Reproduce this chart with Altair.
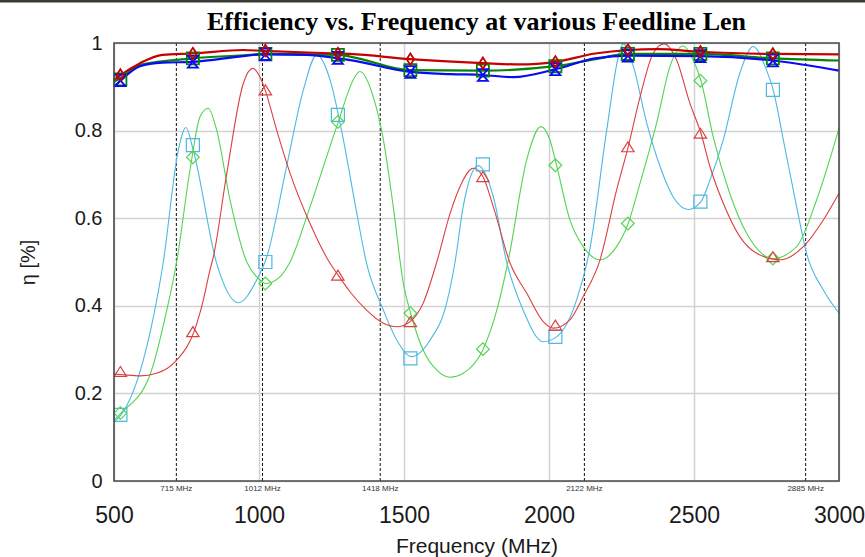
import altair as alt
import pandas as pd

# ---------------- data ----------------
# thick upper curves
red_hi_f = [500, 524, 590, 667, 774, 945, 1014, 1273, 1314, 1521, 1773, 1900, 2021, 2159, 2274, 2373, 2522, 2772, 3000]
red_hi_v = [0.915, 0.927, 0.954, 0.973, 0.976, 0.984, 0.982, 0.976, 0.975, 0.963, 0.954, 0.951, 0.957, 0.976, 0.984, 0.986, 0.980, 0.975, 0.974]

green_hi_f = [500, 524, 590, 774, 945, 1014, 1273, 1314, 1521, 1773, 2021, 2159, 2274, 2522, 2772, 3000]
green_hi_v = [0.912, 0.920, 0.950, 0.965, 0.972, 0.975, 0.973, 0.969, 0.938, 0.937, 0.947, 0.963, 0.975, 0.975, 0.965, 0.960]

blue_hi_f = [500, 524, 590, 667, 774, 945, 1014, 1165, 1273, 1314, 1521, 1660, 1773, 1877, 2021, 2159, 2274, 2522, 2772, 3000]
blue_hi_v = [0.900, 0.915, 0.947, 0.955, 0.957, 0.970, 0.974, 0.973, 0.965, 0.961, 0.934, 0.929, 0.927, 0.922, 0.940, 0.965, 0.971, 0.970, 0.960, 0.937]

# thin lower curves
cyan_f = [500, 524, 601, 670, 722, 748, 773, 854, 865, 929, 992, 1027, 1095, 1153, 1199, 1245, 1291, 1331, 1371,
          1429, 1475, 1526, 1590, 1647, 1676, 1704, 1756, 1808, 1854, 1911, 1980, 2026, 2095, 2141, 2199, 2245,
          2256, 2291, 2337, 2383, 2428, 2480, 2524, 2555, 2601, 2658, 2704, 2750, 2773, 2808, 2854, 2888, 2946, 3000]
cyan_v = [0.135, 0.151, 0.276, 0.500, 0.756, 0.807, 0.756, 0.497, 0.474, 0.407, 0.459, 0.512, 0.718, 0.893, 0.973,
          0.916, 0.779, 0.634, 0.497, 0.390, 0.322, 0.284, 0.322, 0.406, 0.500, 0.626, 0.720, 0.649, 0.500, 0.390,
          0.318, 0.329, 0.413, 0.530, 0.801, 0.984, 0.998, 0.946, 0.817, 0.718, 0.649, 0.620, 0.638, 0.687, 0.779,
          0.931, 0.992, 0.938, 0.893, 0.779, 0.626, 0.520, 0.436, 0.383]

green_lo_f = [500, 524, 624, 682, 716, 762, 797, 825, 854, 900, 958, 992, 1024, 1072, 1107, 1176, 1268, 1331, 1348,
              1394, 1429, 1463, 1498, 1523, 1566, 1613, 1659, 1704, 1773, 1820, 1860, 1923, 1972, 2003, 2026, 2072,
              2118, 2176, 2233, 2273, 2314, 2371, 2417, 2463, 2497, 2524, 2566, 2623, 2681, 2773, 2854, 2923, 3000]
green_lo_v = [0.139, 0.155, 0.242, 0.390, 0.500, 0.710, 0.832, 0.851, 0.801, 0.642, 0.500, 0.466, 0.451, 0.466, 0.500,
              0.626, 0.809, 0.923, 0.935, 0.877, 0.779, 0.626, 0.450, 0.383, 0.299, 0.253, 0.237, 0.246, 0.301, 0.390,
              0.505, 0.733, 0.809, 0.779, 0.721, 0.596, 0.535, 0.505, 0.535, 0.588, 0.680, 0.817, 0.946, 0.993, 0.961,
              0.914, 0.786, 0.657, 0.566, 0.508, 0.535, 0.642, 0.805]

red_lo_f = [500, 524, 590, 647, 716, 776, 808, 831, 842, 889, 946, 978, 1003, 1021, 1061, 1107, 1176, 1245, 1273,
            1314, 1371, 1429, 1475, 1521, 1566, 1613, 1659, 1693, 1739, 1772, 1808, 1866, 1923, 1980, 2015, 2072,
            2118, 2176, 2233, 2273, 2314, 2359, 2397, 2440, 2486, 2524, 2555, 2601, 2658, 2716, 2797, 2877, 2946, 3000]
red_lo_v = [0.244, 0.243, 0.240, 0.246, 0.276, 0.341, 0.413, 0.482, 0.510, 0.703, 0.908, 0.942, 0.923, 0.893, 0.801,
            0.703, 0.588, 0.497, 0.470, 0.432, 0.390, 0.360, 0.352, 0.364, 0.406, 0.500, 0.611, 0.672, 0.714, 0.695,
            0.626, 0.497, 0.429, 0.364, 0.349, 0.368, 0.421, 0.505, 0.664, 0.763, 0.877, 0.976, 0.998, 0.961, 0.862,
            0.794, 0.718, 0.634, 0.558, 0.520, 0.505, 0.535, 0.596, 0.657]

# marker positions and values
marker_f = [522, 772, 1022, 1272, 1522, 1772, 2022, 2272, 2522, 2772]
red_hi_m = [0.927, 0.976, 0.983, 0.976, 0.963, 0.954, 0.957, 0.984, 0.980, 0.975]
green_hi_m = [0.917, 0.965, 0.975, 0.973, 0.938, 0.937, 0.947, 0.975, 0.975, 0.965]
blue_hi_m = [0.915, 0.957, 0.974, 0.966, 0.934, 0.927, 0.940, 0.971, 0.970, 0.960]
red_lo_m = [0.250, 0.341, 0.893, 0.470, 0.364, 0.695, 0.356, 0.763, 0.794, 0.512]
green_lo_m = [0.155, 0.739, 0.451, 0.820, 0.383, 0.301, 0.721, 0.588, 0.914, 0.508]
cyan_m = [0.151, 0.767, 0.500, 0.836, 0.280, 0.723, 0.329, 0.975, 0.638, 0.893]

# annotated frequencies
band_f = [715, 1012, 1418, 2122, 2885]
band_lbl = ["715 MHz", "1012 MHz", "1418 MHz", "2122 MHz", "2885 MHz"]

title_text = "Efficiency vs. Frequency at various Feedline Len"
x_ticks = [500, 1000, 1500, 2000, 2500, 3000]
y_ticks = [0, 0.2, 0.4, 0.6, 0.8, 1.0]

series = ["cyan", "green_lo", "red_lo", "green_hi", "blue_hi", "red_hi"]
colors = ["#4DB8E2", "#52D452", "#DB4040", "#078407", "#0A0AF5", "#C40000"]
shapes = ["square",
          "diamond",
          "M0,-0.8L1,0.8L-1,0.8Z",
          "square",
          "M-0.85,-1L0.85,-1L-0.85,1L0.85,1Z",
          "M0,-1L0.65,0L0,1L-0.65,0Z"]
sizes = [170, 130, 190, 140, 150, 170]

# ---------------- tables ----------------
def tbl(fs, vs, name):
    return pd.DataFrame({"freq": fs, "eff": vs, "series": name})

lo_lines = pd.concat([tbl(cyan_f, cyan_v, "cyan"), tbl(green_lo_f, green_lo_v, "green_lo"),
                      tbl(red_lo_f, red_lo_v, "red_lo")])
hi_lines = pd.concat([tbl(green_hi_f, green_hi_v, "green_hi"), tbl(blue_hi_f, blue_hi_v, "blue_hi"),
                      tbl(red_hi_f, red_hi_v, "red_hi")])
lo_marks = pd.concat([tbl(marker_f, cyan_m, "cyan"), tbl(marker_f, green_lo_m, "green_lo"),
                      tbl(marker_f, red_lo_m, "red_lo")])
hi_marks = pd.concat([tbl(marker_f, green_hi_m, "green_hi"), tbl(marker_f, blue_hi_m, "blue_hi"),
                      tbl(marker_f, red_hi_m, "red_hi")])
bands = pd.DataFrame({"freq": band_f, "label": band_lbl})
one = pd.DataFrame({"t": [title_text]})

W, H = 725, 438

xenc = alt.X("freq:Q", title="Frequency (MHz)",
             scale=alt.Scale(domain=[500, 3000], nice=False, zero=False),
             axis=alt.Axis(values=x_ticks, format="d", grid=True, ticks=False, tickSize=0, domain=False,
                           labelFontSize=23, labelPadding=23, labelFont="Liberation Sans",
                           labelColor="#1a1a1a", titleFont="Liberation Sans", titleFontSize=21,
                           titleFontWeight="normal", titleColor="#1a1a1a", titlePadding=8,
                           gridColor="#d2d2d2", gridWidth=1.5, labelFlush=False))
yenc = alt.Y("eff:Q", title="η [%]",
             scale=alt.Scale(domain=[0, 1], nice=False),
             axis=alt.Axis(values=y_ticks, format="~g", grid=True, ticks=False, tickSize=0, domain=False,
                           labelFontSize=20, labelPadding=12, labelFont="Liberation Sans",
                           labelColor="#1a1a1a", titleFont="Liberation Sans", titleFontSize=20,
                           titleFontWeight="normal", titleColor="#1a1a1a", titlePadding=36,
                           gridColor="#d2d2d2", gridWidth=1.5, labelFlush=False))
cenc = alt.Color("series:N", scale=alt.Scale(domain=series, range=colors), legend=None)
shenc = alt.Shape("series:N", scale=alt.Scale(domain=series, range=shapes), legend=None)
szenc = alt.Size("series:N", scale=alt.Scale(domain=series, range=sizes), legend=None)

lo_line_layer = alt.Chart(lo_lines).mark_line(interpolate="monotone", strokeWidth=1.1).encode(
    x=xenc, y=yenc, color=cenc, detail="series:N")
hi_line_layer = alt.Chart(hi_lines).mark_line(interpolate="monotone", strokeWidth=2.2).encode(
    x=xenc, y=yenc, color=cenc, detail="series:N")
lo_mark_layer = alt.Chart(lo_marks).mark_point(filled=False, strokeWidth=1.2, opacity=1).encode(
    x=xenc, y=yenc, color=cenc, shape=shenc, size=szenc)
hi_mark_layer = alt.Chart(hi_marks).mark_point(filled=False, strokeWidth=1.8, opacity=1).encode(
    x=xenc, y=yenc, color=cenc, shape=shenc, size=szenc)

band_rules = alt.Chart(bands).mark_rule(color="#111111", strokeDash=[3, 2], strokeWidth=1).encode(
    x=xenc, y=alt.value(0), y2=alt.value(H))
band_text = alt.Chart(bands).mark_text(fontSize=8, font="Liberation Sans", color="#333333",
                                       baseline="middle", align="center").encode(
    x=xenc, y=alt.value(H + 8), text="label:N")

frame = alt.Chart(one).mark_rect(fillOpacity=0, stroke="#4a4a4a", strokeWidth=1.6).encode(
    x=alt.value(0), x2=alt.value(W), y=alt.value(0), y2=alt.value(H))
top_band = alt.Chart(one).mark_rule(color="#3a3a32", strokeWidth=3).encode(
    x=alt.value(-114), x2=alt.value(W + 26), y=alt.value(-42))
title_mark = alt.Chart(one).mark_text(font="Liberation Serif", fontSize=26, fontWeight="bold",
                                      color="#000000", align="center", baseline="alphabetic").encode(
    x=alt.value(W / 2), y=alt.value(-13), text="t:N")

chart = alt.layer(
    band_rules, lo_line_layer, lo_mark_layer, hi_line_layer, hi_mark_layer, band_text, frame, top_band,
    title_mark
).resolve_scale(color="shared").properties(
    width=W, height=H,
    autosize=alt.AutoSizeParams(type="none"),
    padding={"left": 114, "top": 43, "right": 26, "bottom": 76},
).configure_view(strokeWidth=0).configure(background="white")

chart.save("out.html", embed_options={"renderer": "svg", "actions": False})
